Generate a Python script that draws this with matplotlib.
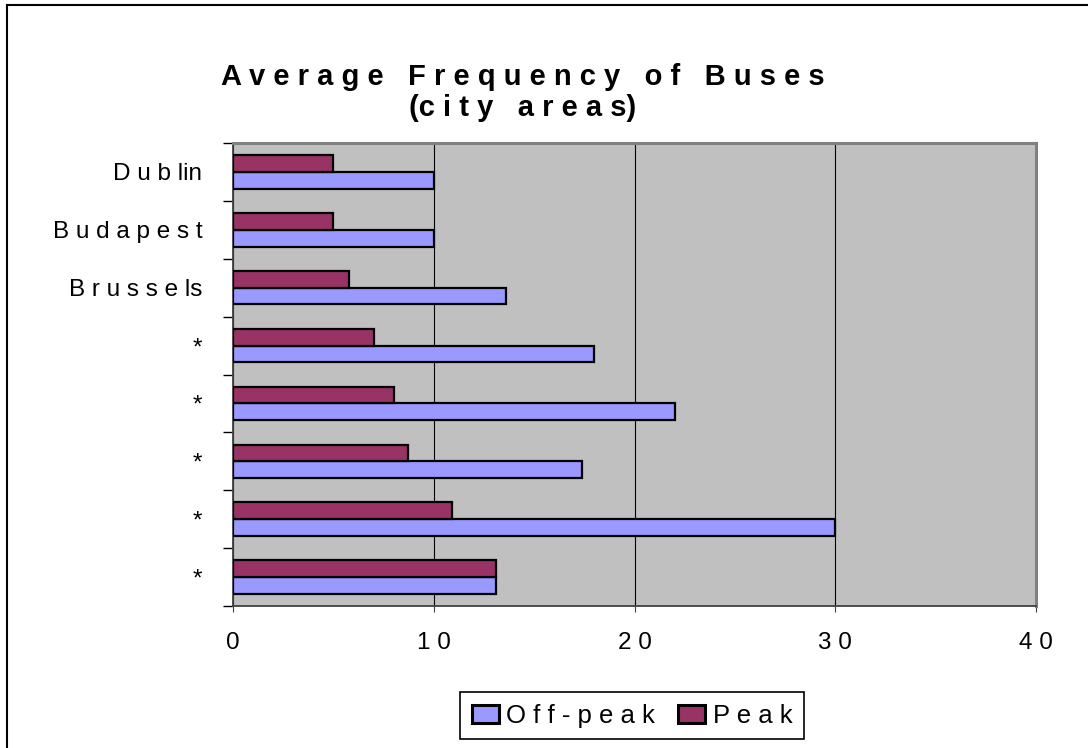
import numpy as np
import matplotlib
matplotlib.use('Agg')
import matplotlib.pyplot as plt
from matplotlib.patches import Patch
from matplotlib.lines import Line2D

plt.rcParams['font.family'] = ['Liberation Sans', 'DejaVu Sans']

# Cities listed top to bottom, with the wide letter spacing of the labels
cities = ['D u b lin', 'B u d a p e s t', 'B r u s s e ls', '*', '*', '*', '*', '*']
off_peak = [10, 10, 13.6, 18, 22, 17.4, 30, 13.1]
peak = [5, 5, 5.8, 7, 8, 8.7, 10.9, 13.1]
x_ticks = [0, 10, 20, 30, 40]
x_labels = ['0', '1 0', '2 0', '3 0', '4 0']

OFF_COLOR = '#9999FF'
PEAK_COLOR = '#993366'

fig = plt.figure(figsize=(10.88, 7.48), dpi=100)
ax = fig.add_axes([233 / 1088, 1 - 606 / 748, 803 / 1088, 463 / 748])
ax.set_facecolor('#C0C0C0')

y = np.arange(len(cities))
h = 0.29
ax.barh(y + h / 2, off_peak, height=h, color=OFF_COLOR, edgecolor='black',
        linewidth=1.6, zorder=3, label='O f f - p e a k')
ax.barh(y - h / 2, peak, height=h, color=PEAK_COLOR, edgecolor='black',
        linewidth=1.6, zorder=3, label='P e a k')

ax.set_xlim(0, 40)
ax.set_ylim(len(cities) - 0.5, -0.5)

# x axis
ax.set_xticks(x_ticks)
ax.set_xticklabels(x_labels, fontsize=17.5)
ax.tick_params(axis='x', direction='out', length=4.5, width=0.8, pad=14,
               color='#404040')
ax.grid(axis='x', color='black', linewidth=0.8, zorder=1)

# y axis: labels at the centres, tick marks between categories
ax.set_yticks(y)
ax.set_yticklabels(cities, fontsize=17.5)
ax.tick_params(axis='y', which='major', length=0, pad=22)
ax.set_yticks(np.arange(len(cities) + 1) - 0.5, minor=True)
ax.tick_params(axis='y', which='minor', direction='out', length=7.5,
               width=1.0, color='black')

for side in ['left', 'bottom']:
    ax.spines[side].set_color('#404040')
    ax.spines[side].set_linewidth(1.3)
for side in ['top', 'right']:
    ax.spines[side].set_color('#808080')
    ax.spines[side].set_linewidth(2.2)

# title
fig.text(523 / 1088, 1 - 77 / 748, 'A v e r a g e   F r e q u e n c y   o f   B u s e s',
         ha='center', va='center', fontsize=21, fontweight='bold')
fig.text(523 / 1088, 1 - 108 / 748, '(c i t y   a r e a s)',
         ha='center', va='center', fontsize=21, fontweight='bold')

# legend
handles = [Patch(facecolor=OFF_COLOR, edgecolor='black', linewidth=2.2,
                 label='O f f - p e a k'),
           Patch(facecolor=PEAK_COLOR, edgecolor='black', linewidth=2.2,
                 label='P e a k')]
leg = fig.legend(handles=handles, loc='upper left', ncol=2,
                 bbox_to_anchor=(460 / 1088, 1 - 692 / 748),
                 fontsize=18.5, frameon=True, fancybox=False,
                 edgecolor='black', framealpha=1, borderaxespad=0,
                 handlelength=1.05, handleheight=0.7, handletextpad=0.3,
                 columnspacing=0.9, borderpad=0.45)
leg.get_frame().set_linewidth(1.2)

# chart area frame
fig.add_artist(Line2D([7 / 1088, 1], [1 - 5 / 748, 1 - 5 / 748],
                      transform=fig.transFigure, color='black', linewidth=1.5))
fig.add_artist(Line2D([7 / 1088, 7 / 1088], [0, 1 - 5 / 748],
                      transform=fig.transFigure, color='black', linewidth=1.5))

fig.savefig('out.png', dpi=100, facecolor='white')
